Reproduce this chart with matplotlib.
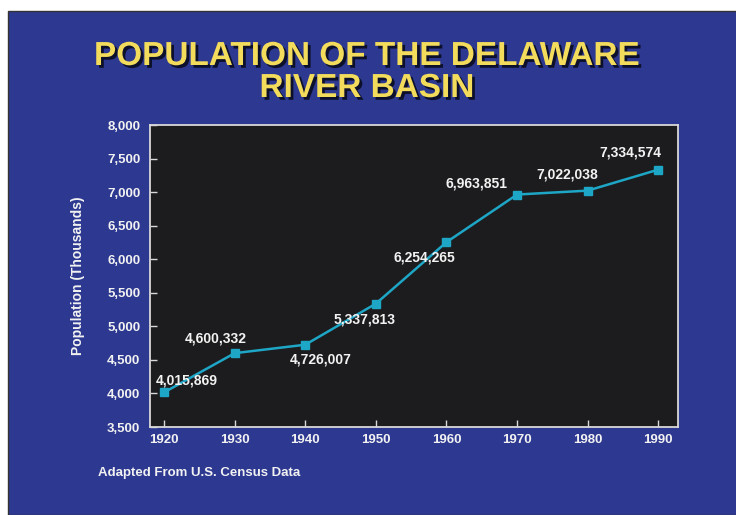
import matplotlib.pyplot as plt
import matplotlib.patheffects as pe
from matplotlib.patches import Rectangle

# Delaware River Basin population, in thousands
years = [1920, 1930, 1940, 1950, 1960, 1970, 1980, 1990]
population = [4015.869, 4600.332, 4726.007, 5337.813, 6254.265, 6963.851, 7022.038, 7334.574]
point_labels = ['4,015,869', '4,600,332', '4,726,007', '5,337,813',
                '6,254,265', '6,963,851', '7,022,038', '7,334,574']
# where each value label sits relative to its marker (pixels)
label_offsets = [(23, 12), (-19, 15), (15, -15), (-11, -16),
                 (-22, -15), (-41, 11), (-20, 16), (-28, 17)]
y_ticks = list(range(3500, 8001, 500))

BLUE = '#2d3890'
PLOT_BG = '#1c1c1e'
LINE = '#1ea6c6'
TEXT = '#f2f2f2'
TITLE = '#f3dc5c'

plt.rcParams['font.family'] = ['Liberation Sans', 'DejaVu Sans']
plt.rcParams['font.weight'] = 'bold'

fig = plt.figure(figsize=(7.36, 5.15), dpi=100, facecolor='white')
fig.patches.append(Rectangle((8 / 736, 0), 1, (515 - 11) / 515, transform=fig.transFigure,
                             facecolor=BLUE, edgecolor='#333333', linewidth=1.0, zorder=-5))

ax = fig.add_axes([150 / 736, 88 / 515, 528 / 736, 302 / 515])
ax.set_facecolor(PLOT_BG)
for s in ax.spines.values():
    s.set_color('#d8d8d8')
    s.set_linewidth(1.3)

ax.plot(years, population, color=LINE, linewidth=1.8, marker='s', markersize=6,
        markerfacecolor=LINE, markeredgecolor=LINE)

for x, y, lab, off in zip(years, population, point_labels, label_offsets):
    ax.annotate(lab, (x, y), xytext=off, textcoords='offset pixels', ha='center', va='center',
                color=TEXT, fontsize=10, fontweight='bold')

ax.set_xlim(1918.0, 1992.8)
ax.set_ylim(3500, 8000)
ax.set_xticks(years)
ax.set_yticks(y_ticks)
ax.set_yticklabels([f'{v:,}' for v in y_ticks])
ax.tick_params(axis='both', direction='in', length=5, width=1, color='#d8d8d8',
               labelcolor=TEXT, labelsize=9.5)
ax.tick_params(axis='y', pad=7)
ax.tick_params(axis='x', pad=5)
for t in ax.get_xticklabels() + ax.get_yticklabels():
    t.set_fontweight('bold')

ax.set_ylabel('Population (Thousands)', color=TEXT, fontsize=10, fontweight='bold', labelpad=16)

shadow = [pe.withSimplePatchShadow(offset=(2, -2), shadow_rgbFace='black', alpha=0.7)]
fig.text(367 / 736, 1 - 65 / 515, 'POPULATION OF THE DELAWARE', ha='center', va='baseline',
         color=TITLE, fontsize=24, fontweight='bold', path_effects=shadow)
fig.text(367 / 736, 1 - 97 / 515, 'RIVER BASIN', ha='center', va='baseline',
         color=TITLE, fontsize=24, fontweight='bold', path_effects=shadow)

fig.text(98 / 736, 1 - 473 / 515, 'Adapted From U.S. Census Data', ha='left', va='center',
         color=TEXT, fontsize=9.5, fontweight='bold')

fig.savefig('out.png', dpi=100, facecolor=fig.get_facecolor())
